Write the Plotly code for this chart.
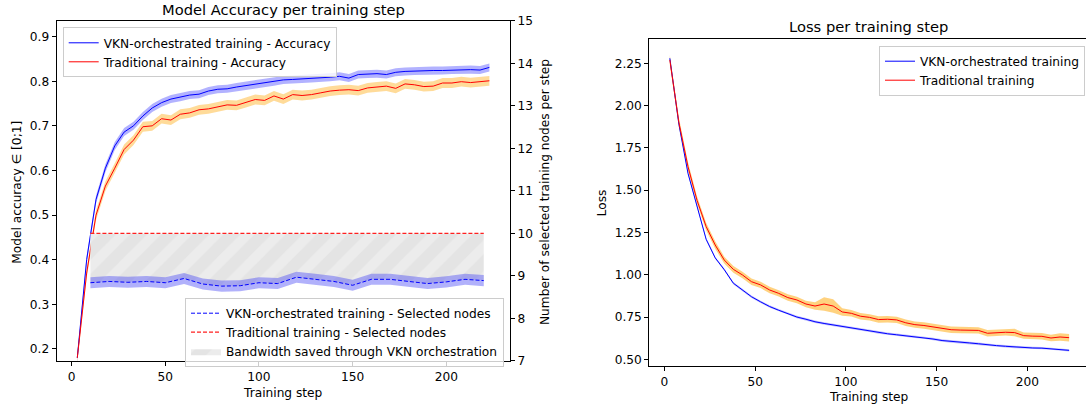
import plotly.graph_objects as go

FONT = "DejaVu Sans"

# accuracy / loss are sampled every 5 training steps
steps = [3, 8, 13, 18, 23, 28, 33, 38, 43, 48, 53, 58, 63, 68, 73, 78, 83, 88, 93, 98,
         103, 108, 113, 118, 123, 128, 133, 138, 143, 148, 153, 158, 163, 168, 173, 178,
         183, 188, 193, 198, 203, 208, 213, 218, 223]

acc_vkn = [0.18, 0.40, 0.535, 0.605, 0.655, 0.686, 0.700, 0.722, 0.740, 0.752, 0.760,
           0.764, 0.769, 0.771, 0.778, 0.782, 0.783, 0.787, 0.790, 0.793, 0.796, 0.799,
           0.803, 0.804, 0.805, 0.806, 0.807, 0.809, 0.811, 0.807, 0.815, 0.816, 0.817,
           0.815, 0.820, 0.822, 0.823, 0.823, 0.824, 0.824, 0.825, 0.826, 0.826, 0.825,
           0.831]
acc_trad = [0.18, 0.37, 0.50, 0.565, 0.605, 0.647, 0.668, 0.698, 0.700, 0.716, 0.713,
            0.726, 0.729, 0.736, 0.738, 0.743, 0.747, 0.746, 0.752, 0.759, 0.757, 0.767,
            0.760, 0.770, 0.768, 0.770, 0.774, 0.778, 0.780, 0.781, 0.779, 0.785, 0.787,
            0.789, 0.784, 0.794, 0.792, 0.788, 0.789, 0.796, 0.796, 0.799, 0.797, 0.799,
            0.801]
acc_vkn_std = 0.009
acc_trad_std = 0.011

loss_vkn = [2.28, 1.89, 1.60, 1.40, 1.21, 1.10, 1.03, 0.95, 0.91, 0.87, 0.84, 0.812,
            0.79, 0.772, 0.75, 0.737, 0.722, 0.712, 0.703, 0.693, 0.684, 0.676, 0.668,
            0.658, 0.651, 0.645, 0.639, 0.633, 0.629, 0.62, 0.611, 0.605, 0.601, 0.597,
            0.592, 0.585, 0.581, 0.577, 0.573, 0.57, 0.567, 0.566, 0.563, 0.559, 0.553]
loss_trad = [2.27, 1.90, 1.64, 1.44, 1.285, 1.176, 1.087, 1.032, 0.999, 0.959, 0.94,
             0.91, 0.89, 0.865, 0.851, 0.827, 0.815, 0.827, 0.815, 0.78, 0.772, 0.755,
             0.748, 0.735, 0.737, 0.733, 0.716, 0.705, 0.70, 0.692, 0.684, 0.675, 0.673,
             0.67, 0.671, 0.654, 0.657, 0.66, 0.658, 0.64, 0.637, 0.636, 0.626, 0.632,
             0.628]
loss_vkn_std = 0.007
loss_trad_std = [0.03, 0.028, 0.025, 0.022, 0.022, 0.022, 0.02, 0.02, 0.019, 0.019, 0.019,
                 0.019, 0.019, 0.019, 0.019, 0.019, 0.022, 0.04, 0.04, 0.022, 0.019,
                 0.019, 0.019, 0.019, 0.019, 0.019, 0.019, 0.019, 0.019, 0.019, 0.019,
                 0.019, 0.019, 0.019, 0.019, 0.019, 0.019, 0.019, 0.022, 0.019, 0.019,
                 0.019, 0.019, 0.022, 0.022]

# selected nodes, every 10 steps
node_steps = [10, 20, 30, 40, 50, 60, 70, 80, 90, 100, 110, 120, 130, 140, 150, 160,
              170, 180, 190, 200, 210, 220]
nodes_vkn = [8.84, 8.87, 8.85, 8.87, 8.84, 8.94, 8.81, 8.76, 8.77, 8.84, 8.82, 8.97,
             8.92, 8.87, 8.78, 8.92, 8.92, 8.87, 8.82, 8.86, 8.92, 8.89]
nodes_trad = [10] * len(node_steps)
nodes_vkn_std = 0.13

acc_xticks = [0, 50, 100, 150, 200]


def band(x, y, sd):
    if not isinstance(sd, list):
        sd = [sd] * len(y)
    up = [a + b for a, b in zip(y, sd)]
    lo = [a - b for a, b in zip(y, sd)]
    return list(x) + list(x[::-1]), up + lo[::-1]


def add_band(fig, x, y, sd, color, xa, ya):
    bx, by = band(x, y, sd)
    fig.add_trace(go.Scatter(
        x=bx, y=by, fill="toself", fillcolor=color, line=dict(width=0, color="rgba(0,0,0,0)"),
        mode="lines", showlegend=False, hoverinfo="skip", xaxis=xa, yaxis=ya,
    ))


fig = go.Figure()

# ---- left panel: nodes (right axis) ----
hx = node_steps + node_steps[::-1]
hy = nodes_trad + nodes_vkn[::-1]
fig.add_trace(go.Scatter(
    x=hx, y=hy, fill="toself", fillcolor="#e4e4e4", mode="lines",
    line=dict(width=0, color="rgba(0,0,0,0)"),
    fillpattern=dict(shape="/", bgcolor="#e4e4e4", fgcolor="#f3f3f3", size=22, solidity=0.45),
    name="Bandwidth saved through VKN orchestration", legend="legend2", legendrank=3,
    xaxis="x", yaxis="y2",
))
add_band(fig, node_steps, nodes_vkn, nodes_vkn_std, "rgba(70,70,245,0.42)", "x", "y2")
fig.add_trace(go.Scatter(
    x=node_steps, y=nodes_vkn, mode="lines",
    line=dict(color="blue", width=1, dash="4px,2px"),
    name="VKN-orchestrated training - Selected nodes", legend="legend2", legendrank=1,
    xaxis="x", yaxis="y2",
))
fig.add_trace(go.Scatter(
    x=node_steps, y=nodes_trad, mode="lines",
    line=dict(color="#ff2020", width=1.2, dash="4px,2px"),
    name="Traditional training - Selected nodes", legend="legend2", legendrank=2,
    xaxis="x", yaxis="y2",
))

# ---- left panel: accuracy ----
add_band(fig, steps, acc_vkn, acc_vkn_std, "rgba(0,0,255,0.3)", "x", "y")
add_band(fig, steps, acc_trad, acc_trad_std, "rgba(255,165,0,0.4)", "x", "y")
fig.add_trace(go.Scatter(
    x=steps, y=acc_vkn, mode="lines", line=dict(color="blue", width=1),
    name="VKN-orchestrated training - Accuracy", legend="legend", xaxis="x", yaxis="y",
))
fig.add_trace(go.Scatter(
    x=steps, y=acc_trad, mode="lines", line=dict(color="red", width=1),
    name="Traditional training - Accuracy", legend="legend", xaxis="x", yaxis="y",
))

# ---- right panel: loss ----
add_band(fig, steps, loss_vkn, loss_vkn_std, "rgba(0,0,255,0.25)", "x2", "y3")
add_band(fig, steps, loss_trad, loss_trad_std, "rgba(255,165,0,0.5)", "x2", "y3")
fig.add_trace(go.Scatter(
    x=steps, y=loss_vkn, mode="lines", line=dict(color="blue", width=1),
    name="VKN-orchestrated training", legend="legend3", xaxis="x2", yaxis="y3",
))
fig.add_trace(go.Scatter(
    x=steps, y=loss_trad, mode="lines", line=dict(color="red", width=1),
    name="Traditional training", legend="legend3", xaxis="x2", yaxis="y3",
))

AX = dict(
    showline=True, linecolor="black", linewidth=1, showgrid=False, zeroline=False,
    ticks="outside", ticklen=4, tickcolor="black", tickwidth=1,
    tickfont=dict(size=12.2, color="black"), automargin=False,
)

LEG = dict(
    xanchor="left", yanchor="top", bgcolor="rgba(255,255,255,0.8)",
    bordercolor="#cccccc", borderwidth=1, font=dict(size=12.2, color="black"),
    traceorder="normal", itemwidth=30,
)

fig.update_layout(
    width=1086, height=408,
    margin=dict(l=0, r=0, t=0, b=0),
    plot_bgcolor="white", paper_bgcolor="white",
    font=dict(family=FONT, color="black", size=12.2),
    xaxis=dict(**AX, domain=[0.0522, 0.4696], range=[-8, 234], tickvals=acc_xticks,
               mirror=True, anchor="y"),
    yaxis=dict(**AX, domain=[0.1152, 0.9493], range=[0.1729, 0.9357], dtick=0.1,
               tickformat=".1f", mirror=True, anchor="x"),
    yaxis2=dict(**AX, overlaying="y", side="right", range=[7, 15], dtick=1, anchor="x"),
    xaxis2=dict(**AX, domain=[0.5979, 1.0], range=[-8.3, 232.3], tickvals=acc_xticks,
                mirror=True, anchor="y3"),
    yaxis3=dict(**AX, domain=[0.1029, 0.9044], range=[0.4604, 2.394], dtick=0.25,
                tick0=0.5, tickformat=".2f", anchor="x2"),
    legend=dict(**LEG, x=62.7 / 1086, y=1 - 27.3 / 408),
    legend2=dict(**LEG, x=185 / 1086, y=1 - 297.7 / 408),
    legend3=dict(**LEG, x=879 / 1086, y=1 - 45.7 / 408),
    showlegend=True,
)

ann = [
    ("Model Accuracy per training step", 283, 9, 14.7, 0),
    ("Loss per training step", 868.8, 26.7, 14.7, 0),
    ("Training step", 282.5, 393, 12.2, 0),
    ("Training step", 869, 396.7, 12.2, 0),
    ("Model accuracy \u2208 [0;1]", 16.7, 192, 12.2, -90),
    ("Number of selected training nodes per step", 545, 192, 12.2, -90),
    ("Loss", 601.7, 202.7, 12.2, -90),
]
for text, px, py, size, angle in ann:
    fig.add_annotation(
        text=text, x=px / 1086, y=1 - py / 408, xref="paper", yref="paper",
        showarrow=False, textangle=angle, xanchor="center", yanchor="middle",
        font=dict(size=size, color="black", family=FONT),
    )

# page body has a default 8px margin; remove it so the figure sits at 0,0
fig.write_html(
    "out.html",
    config={"displayModeBar": False},
    post_script="document.body.style.margin='0';document.body.style.overflow='hidden';",
)
